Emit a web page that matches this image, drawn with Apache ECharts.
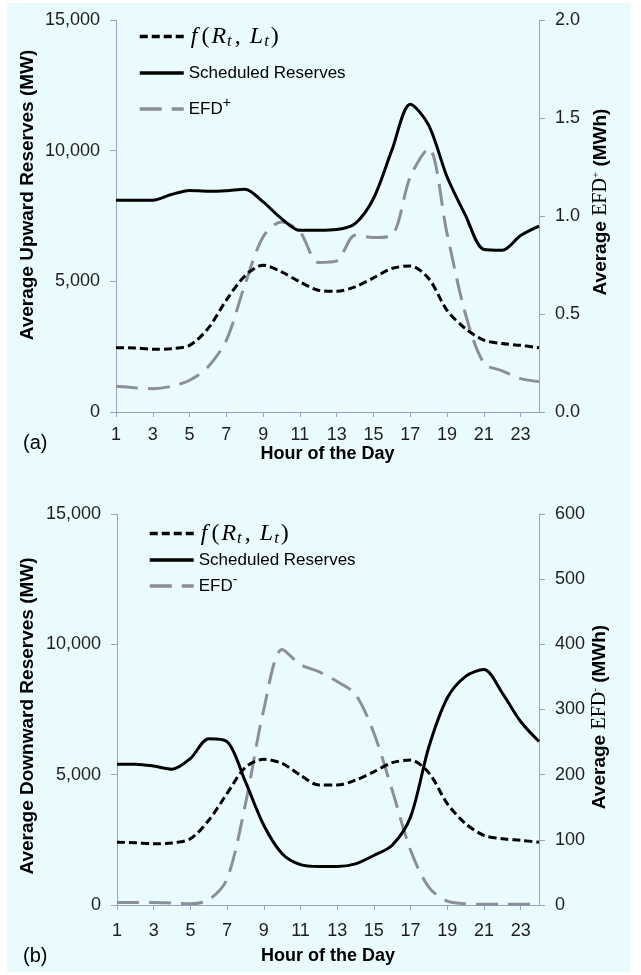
<!DOCTYPE html>
<html>
<head>
<meta charset="utf-8">
<script src="https://cdn.jsdelivr.net/npm/echarts@6/dist/echarts.min.js"></script>
<style>
  html, body { margin: 0; padding: 0; background: #ffffff; }
  #main { position: absolute; left: 7px; top: 3px; width: 623px; height: 969px; background: #eafbfd; }
</style>
</head>
<body>
<div id="main"></div>
<script>
// hours on the x axis
var hours = ['1','2','3','4','5','6','7','8','9','10','11','12','13','14','15','16','17','18','19','20','21','22','23','24'];

// (a) upward
var resUp = [8100,8100,8100,8320,8480,8450,8470,8520,8040,7400,6950,6950,6980,7210,8170,10020,11780,10980,9000,7530,6220,6190,6750,7110];
var fUp = [2460,2450,2400,2420,2550,3190,4280,5200,5620,5360,4980,4660,4620,4790,5130,5490,5590,5110,3890,3190,2750,2620,2550,2460];
var efdUp = [0.131,0.124,0.119,0.131,0.162,0.23,0.366,0.647,0.894,0.97,0.919,0.763,0.771,0.902,0.89,0.902,1.2,1.345,0.911,0.5,0.25,0.21,0.17,0.155];

// (b) downward
var resDown = [5400,5400,5330,5210,5620,6380,6270,4730,3060,1970,1550,1480,1480,1580,1900,2290,3380,6070,7940,8770,9030,8130,7040,6270];
var fDown = [2410,2390,2350,2380,2540,3250,4280,5280,5590,5430,4980,4600,4600,4790,5110,5460,5560,5070,3890,3120,2670,2540,2480,2410];
var efdDown = [4,4,4,3,2,8,40,155,300,392,369,358,343,323,264,176,84,27,6,2,1,1,1,1];

var axisColor = '#97a4c2';
var grayLine = '#8b8e9b';
var labelColor = '#1e1e1e';
var sans = 'Liberation Sans, Arial, sans-serif';
var serif = 'Liberation Serif, Times New Roman, serif';

var chart = echarts.init(document.getElementById('main'));

function commas(v) {
    return String(v).replace(/\B(?=(\d{3})+(?!\d))/g, ',');
}

var legendRich = {
    f: { fontFamily: serif, fontStyle: 'italic', fontSize: 24, lineHeight: 24, padding: [0, 4, 0, 2], color: '#000' },
    i: { fontFamily: serif, fontStyle: 'italic', fontSize: 24, lineHeight: 24, padding: [0, 0, 0, 2], color: '#000' },
    n: { fontFamily: serif, fontSize: 24, lineHeight: 24, color: '#000' },
    c: { fontFamily: serif, fontSize: 24, lineHeight: 24, padding: [0, 7, 0, 1], color: '#000' },
    s: { fontFamily: serif, fontStyle: 'italic', fontSize: 17, lineHeight: 24, padding: [10, 2, 0, 1], color: '#000' },
    p: { fontFamily: sans, fontSize: 14, lineHeight: 24, padding: [0, 0, 12, 0], color: '#000' }
};

var titleRich = {
    e: { fontFamily: serif, fontWeight: 'normal', fontSize: 20, fill: '#000' },
    p: { fontFamily: serif, fontSize: 11, padding: [0, 0, 10, 0], fill: '#000' }
};

function legendFmt(name) {
    if (name === 'f(Rt,Lt)') return '{f|f}{n|(}{i|R}{s|t}{c|,}{i|L}{s|t}{n|)}';
    if (name === 'EFD+') return 'EFD{p|+}';
    if (name === 'EFD-') return 'EFD{p|-}';
    return name;
}

function xAxisBase(idx, labelMargin, nameGap) {
    return {
        gridIndex: idx,
        type: 'category',
        data: hours,
        boundaryGap: false,
        axisLine: { lineStyle: { color: axisColor, width: 1 } },
        axisTick: { interval: 1, length: 5, lineStyle: { color: axisColor } },
        axisLabel: { interval: 1, margin: labelMargin, fontSize: 18, color: labelColor, fontFamily: sans },
        splitLine: { show: false },
        name: 'Hour of the Day',
        nameLocation: 'middle',
        nameGap: nameGap,
        nameTextStyle: { fontSize: 18, fontWeight: 'bold', color: '#000', fontFamily: sans }
    };
}

function yAxisBase(idx, pos, max, interval, fmt) {
    return {
        gridIndex: idx,
        type: 'value',
        position: pos,
        min: 0,
        max: max,
        interval: interval,
        axisLine: { show: true, lineStyle: { color: axisColor, width: 1 } },
        axisTick: { show: true, length: 6, lineStyle: { color: axisColor } },
        axisLabel: { margin: 16, fontSize: 18, color: labelColor, fontFamily: sans, formatter: fmt },
        splitLine: { show: false }
    };
}

function yTitle(text, x, y) {
    return {
        type: 'text',
        x: x,
        y: y,
        rotation: Math.PI / 2,
        style: {
            text: text,
            fontSize: 19,
            fontWeight: 'bold',
            fontFamily: sans,
            fill: '#000',
            align: 'center',
            verticalAlign: 'middle',
            rich: titleRich
        }
    };
}

function lineSeries(name, data, xi, yi, color, dash) {
    return {
        name: name,
        type: 'line',
        xAxisIndex: xi,
        yAxisIndex: yi,
        data: data,
        symbol: 'none',
        smooth: 0.3,
        lineStyle: { color: color, width: 3, type: dash },
        itemStyle: { color: color },
        z: name === 'EFD+' || name === 'EFD-' ? 2 : 3
    };
}

var legendBase = {
    orient: 'vertical',
    padding: 0,
    itemWidth: 44,
    itemHeight: 6,
    itemStyle: { opacity: 0 },
    lineStyle: { width: 3.5 },
    formatter: legendFmt,
    textStyle: { fontSize: 17, lineHeight: 24, color: '#000', fontFamily: sans, rich: legendRich }
};

chart.setOption({
    animation: false,
    grid: [
        { left: 109, top: 17, width: 423, height: 392 },
        { left: 110, top: 511, width: 422, height: 391 }
    ],
    xAxis: [xAxisBase(0, 14, 32), xAxisBase(1, 17, 42)],
    yAxis: [
        yAxisBase(0, 'left', 15000, 5000, commas),
        yAxisBase(0, 'right', 2, 0.5, function (v) { return v.toFixed(1); }),
        yAxisBase(1, 'left', 15000, 5000, commas),
        yAxisBase(1, 'right', 600, 100, function (v) { return String(v); })
    ],
    legend: [
        Object.assign({}, legendBase, {
            data: ['f(Rt,Lt)', 'Scheduled Reserves', 'EFD+'],
            left: 131, top: 20, itemGap: 11
        }),
        Object.assign({}, legendBase, {
            data: ['f(Rt,Lt)', 'Scheduled Reserves', 'EFD-'],
            left: 141, top: 517, itemGap: 1
        })
    ],
    graphic: [
        { type: 'text', left: 16, top: 430, style: { text: '(a)', font: '20px Liberation Sans', fill: '#000' } },
        { type: 'text', left: 16, top: 943, style: { text: '(b)', font: '20px Liberation Sans', fill: '#000' } },
        yTitle('Average Upward Reserves (MW)', 21, 192),
        yTitle('Average {e|EFD}{p|+} (MWh)', 594, 199),
        yTitle('Average Downward Reserves (MW)', 21, 713),
        yTitle('Average {e|EFD}{p|-} (MWh)', 593, 714)
    ],
    series: [
        lineSeries('EFD+', efdUp, 0, 1, grayLine, [22, 10]),
        lineSeries('Scheduled Reserves', resUp, 0, 0, '#000', 'solid'),
        lineSeries('f(Rt,Lt)', fUp, 0, 0, '#000', [8, 4]),
        lineSeries('EFD-', efdDown, 1, 3, grayLine, [22, 10]),
        lineSeries('Scheduled Reserves', resDown, 1, 2, '#000', 'solid'),
        lineSeries('f(Rt,Lt)', fDown, 1, 2, '#000', [8, 4])
    ]
});
</script>
</body>
</html>
